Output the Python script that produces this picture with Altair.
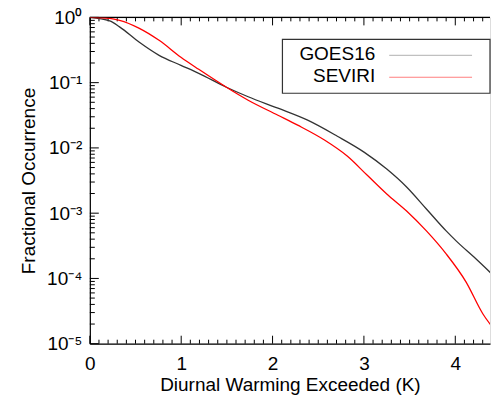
import altair as alt
import pandas as pd

# ---- data ----
goes_x = [0.0, 0.217, 0.325, 0.542, 0.758, 0.997, 1.192, 1.495, 1.733, 2.059, 2.384, 2.709, 3.001, 3.250, 3.467, 3.684, 3.900, 4.009, 4.225, 4.420]
goes_y = [1.0, 0.884, 0.716, 0.415, 0.262, 0.1845, 0.139, 0.0851, 0.0608, 0.0406, 0.0266, 0.0151, 0.00862, 0.00474, 0.00252, 0.00116, 0.000535, 0.000376, 0.000200, 0.000110]

sev_x = [0.0, 0.217, 0.325, 0.542, 0.758, 0.997, 1.192, 1.495, 1.733, 2.059, 2.275, 2.568, 2.817, 3.034, 3.250, 3.467, 3.684, 3.900, 4.117, 4.301, 4.420]
sev_y = [1.0, 0.965, 0.90, 0.679, 0.445, 0.245, 0.160, 0.0851, 0.0538, 0.0317, 0.0223, 0.0132, 0.0075, 0.00384, 0.00197, 0.00108, 0.000535, 0.000238, 0.0000887, 0.0000288, 0.0000169]

series_names = ["GOES16", "SEVIRI"]
series_colors = ["#333333", "#ff0000"]
legend_colors = ["#b0b0b0", "#ff8080"]

x_major = [0, 1, 2, 3, 4]
x_minor = [round(i * 0.1, 1) for i in range(0, 44) if i % 10 != 0]
y_major = [1e-5, 1e-4, 1e-3, 1e-2, 1e-1, 1.0]
y_minor = [k * 10.0 ** d for d in range(-5, 0) for k in range(2, 10)]
y_labels = ["10⁰", "10⁻¹", "10⁻²", "10⁻³", "10⁻⁴", "10⁻⁵"]

W, H = 401, 327
FONT = "Liberation Sans"
X_DOMAIN = [0, 4.38]
Y_DOMAIN = [1e-5, 1]

lines_df = pd.concat([
    pd.DataFrame({"x": goes_x, "v": goes_y, "s": "GOES16"}),
    pd.DataFrame({"x": sev_x, "v": sev_y, "s": "SEVIRI"}),
])


def xs():
    return alt.Scale(domain=X_DOMAIN, nice=False, zero=False)


def ys():
    return alt.Scale(type="log", domain=Y_DOMAIN, nice=False)


label_arr = "[" + ",".join("'" + s + "'" for s in y_labels) + "]"

xaxis = alt.Axis(
    orient="bottom", title="Diurnal Warming Exceeded (K)", values=x_major, format="d", ticks=False, grid=False,
    domainColor="#000000", domainWidth=1.2, labelFont=FONT, labelFontSize=19, labelColor="#000000",
    labelPadding=11, titleFont=FONT, titleFontSize=19, titleFontWeight="normal", titleColor="#000000",
    titlePadding=2, labelFlush=False)
yaxis = alt.Axis(
    orient="left", title="Fractional Occurrence", values=y_major, ticks=False, grid=False,
    labelExpr=label_arr + "[round(-log(datum.value)/LN10)]",
    domainColor="#000000", domainWidth=1.2, labelFont=FONT, labelFontSize=19, labelColor="#000000",
    labelPadding=8, titleFont=FONT, titleFontSize=19, titleFontWeight="normal", titleColor="#000000",
    titlePadding=8, labelFlush=False)

lines = alt.Chart(lines_df).mark_line(strokeWidth=1.3, clip=True, interpolate="monotone").encode(
    x=alt.X("x:Q", scale=xs(), axis=xaxis),
    y=alt.Y("v:Q", scale=ys(), axis=yaxis),
    color=alt.Color("s:N", scale=alt.Scale(domain=series_names, range=series_colors), legend=None),
    detail="s:N",
)


def xticks(vals, length, top):
    df = pd.DataFrame({"tx": vals})
    if top:
        enc = dict(y=alt.value(0), y2=alt.value(length))
    else:
        enc = dict(y=alt.value(H), y2=alt.value(H - length))
    return alt.Chart(df).mark_rule(stroke="#000000", strokeWidth=1).encode(
        x=alt.X("tx:Q", scale=xs(), axis=None), **enc)


def yticks(vals, length):
    df = pd.DataFrame({"ty": vals})
    return alt.Chart(df).mark_rule(stroke="#000000", strokeWidth=1).encode(
        y=alt.Y("ty:Q", scale=ys(), axis=None), x=alt.value(0), x2=alt.value(length))


top_border = alt.Chart(pd.DataFrame({"b": [1]})).mark_rule(stroke="#000000", strokeWidth=1.2).encode(
    x=alt.value(0), x2=alt.value(W), y=alt.value(0))

legend_box = alt.Chart(pd.DataFrame({"a": [0]})).mark_rect(
    fill="white", stroke="#333333", strokeWidth=1.2).encode(
    x=alt.value(193), x2=alt.value(W), y=alt.value(22), y2=alt.value(76))

legend_layers = []
for i, name in enumerate(series_names):
    ldf = pd.DataFrame({"label": [name]})
    legend_layers.append(alt.Chart(ldf).mark_text(
        font=FONT, fontSize=19, align="right", baseline="alphabetic", color="#000000").encode(
        text="label:N", x=alt.value(286), y=alt.value(43 + 22 * i)))
    legend_layers.append(alt.Chart(ldf).mark_rule(stroke=legend_colors[i], strokeWidth=1).encode(
        x=alt.value(300), x2=alt.value(383), y=alt.value(38 + 22 * i)))

chart = alt.layer(
    xticks(x_major, 8, False), xticks(x_minor, 4, False),
    xticks(x_major, 8, True), xticks(x_minor, 4, True),
    yticks(y_major, 9), yticks(y_minor, 5),
    top_border,
    lines,
    legend_box, *legend_layers,
).resolve_scale(x="independent", y="independent").properties(
    width=W, height=H,
    padding={"left": 11, "top": 0, "right": 0, "bottom": 0},
).configure(background="white")

chart.save("out.html", embed_options={"renderer": "svg", "actions": False})
